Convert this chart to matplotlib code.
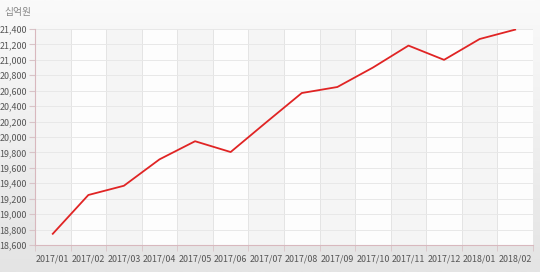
import matplotlib
matplotlib.use("Agg")
import matplotlib.pyplot as plt
import numpy as np
from matplotlib.ticker import FuncFormatter, MultipleLocator, FixedLocator

plt.rcParams["font.family"] = ["Noto Sans CJK KR", "DejaVu Sans"]

MONTHS = ["2017/01", "2017/02", "2017/03", "2017/04", "2017/05", "2017/06", "2017/07",
          "2017/08", "2017/09", "2017/10", "2017/11", "2017/12", "2018/01", "2018/02"]
VALUES = [18745, 19248, 19368, 19710, 19945, 19805, 20190,
          20570, 20648, 20900, 21185, 21000, 21270, 21392]
UNIT = "십억원"

fig = plt.figure(figsize=(5.4, 2.72), dpi=100)
fig.patch.set_facecolor("#ececec")

# soft background gradient behind everything
bg = fig.add_axes([0, 0, 1, 1], zorder=-10)
grad = np.linspace(0, 1, 256).reshape(-1, 1)
bg.imshow(grad, aspect="auto", cmap=matplotlib.colors.LinearSegmentedColormap.from_list(
    "g", ["#fafafa", "#e4e4e4"]), extent=[0, 1, 0, 1])
bg.axis("off")

ax = fig.add_axes([0.0648, 0.0993, 0.9222, 0.7941])
ax.set_facecolor("#fdfdfd")

x = np.arange(len(MONTHS))
for i in range(len(MONTHS)):
    if i % 2 == 0:
        ax.axvspan(i - 0.5, i + 0.5, color="#f5f5f5", zorder=0, lw=0)

ax.plot(x, VALUES, color="#e02424", lw=1.3, zorder=3)

ax.set_xlim(-0.5, len(MONTHS) - 0.5)
ax.set_ylim(18600, 21400)
ax.yaxis.set_major_locator(MultipleLocator(200))
ax.yaxis.set_major_formatter(FuncFormatter(lambda v, p: f"{int(v):,}"))
ax.grid(axis="y", color="#e8e8e8", lw=0.7, zorder=1)

ax.set_xticks(x)
ax.set_xticklabels(MONTHS)
ax.xaxis.set_minor_locator(FixedLocator(np.arange(-0.5, len(MONTHS), 1)))
ax.tick_params(axis="x", which="major", length=0, pad=7, labelsize=6.4, colors="#555555")
ax.tick_params(axis="x", which="minor", length=4, color="#d8c4c8")
ax.tick_params(axis="y", length=4, color="#d8c4c8", labelsize=6.4, colors="#555555", pad=2)
for xv in np.arange(0.5, len(MONTHS) - 1, 1):
    ax.axvline(xv, color="#e4e4e4", lw=0.7, zorder=1)

for s in ["top", "right"]:
    ax.spines[s].set_visible(False)
for s in ["left", "bottom"]:
    ax.spines[s].set_color("#d8b8be")
    ax.spines[s].set_linewidth(0.8)

fig.text(0.009, 0.955, UNIT, fontsize=7, color="#888888", va="center", ha="left")

fig.savefig("out.png", dpi=100, facecolor=fig.get_facecolor())
